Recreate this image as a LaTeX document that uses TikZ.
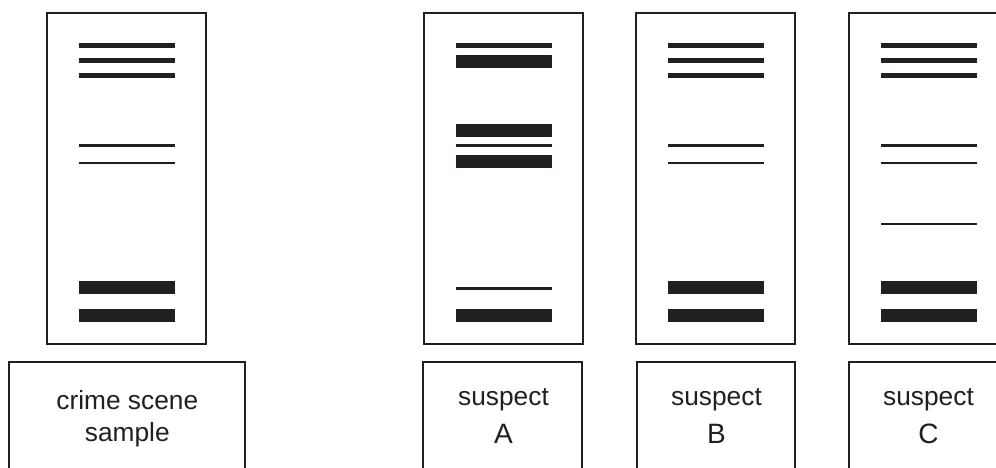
\documentclass[tikz,border=0pt]{standalone}
\usepackage{fontspec}
\setmainfont{Liberation Sans}
\definecolor{ink}{HTML}{231F20}
\newcommand\gelband[3]{\fill[ink] (#1+32,#2) rectangle (#1+127.5,#3);}
\begin{document}
\begin{tikzpicture}[x=1pt,y=-1pt,
  lanebox/.style={draw=ink,line width=1.8pt},
  labelbox/.style={draw=ink,line width=1.8pt},
  word/.style={inner sep=0pt,anchor=base,text=ink,font=\fontsize{26.3}{30}\selectfont},
  letter/.style={inner sep=0pt,anchor=base,text=ink,font=\fontsize{28}{32}\selectfont}]
\useasboundingbox (0,0) rectangle (996,467);
\clip (0,0) rectangle (996,467);
\fill[white] (0,0) rectangle (996,467);
% lanes
\draw[lanebox] (47,12.7) rectangle (206,344.3);
\draw[lanebox] (424,12.7) rectangle (583,344.3);
\draw[lanebox] (636,12.7) rectangle (795,344.3);
\draw[lanebox] (849,12.7) rectangle (1008,344.3);
% crime scene bands
\foreach \L in {47,636,849}{
  \gelband{\L}{42.8}{47.8}
  \gelband{\L}{57.8}{62.8}
  \gelband{\L}{72.8}{77.8}
  \gelband{\L}{144.4}{147.0}
  \gelband{\L}{161.7}{164.3}
  \gelband{\L}{280.7}{294}
  \gelband{\L}{308.7}{322}
}
% suspect A bands
\gelband{424}{42.8}{47.8}
\gelband{424}{55.3}{68.3}
\gelband{424}{124.3}{137}
\gelband{424}{144.4}{147}
\gelband{424}{155}{168}
\gelband{424}{287}{289.6}
\gelband{424}{308.7}{322}
% suspect C extra band
\gelband{849}{222.7}{225.3}
% label boxes (open at bottom)
\draw[labelbox] (9.3,475) -- (9.3,362.3) -- (245,362.3) -- (245,475);
\draw[labelbox] (423,475) -- (423,362.3) -- (582,362.3) -- (582,475);
\draw[labelbox] (637,475) -- (637,362.3) -- (795,362.3) -- (795,475);
\draw[labelbox] (849,475) -- (849,362.3) -- (1010,362.3);
% labels
\node[word] (cs1) at (127.3,409) {crime scene};
\node[word] (cs2) at (127.3,441) {sample};
\node[word] (sa1) at (503.5,405) {suspect};
\node[letter] (sa2) at (503.5,443) {A};
\node[word] (sb1) at (716.5,405) {suspect};
\node[letter] (sb2) at (716.5,443) {B};
\node[word] (sc1) at (928.5,405) {suspect};
\node[letter] (sc2) at (928.5,443) {C};
\end{tikzpicture}
\end{document}
